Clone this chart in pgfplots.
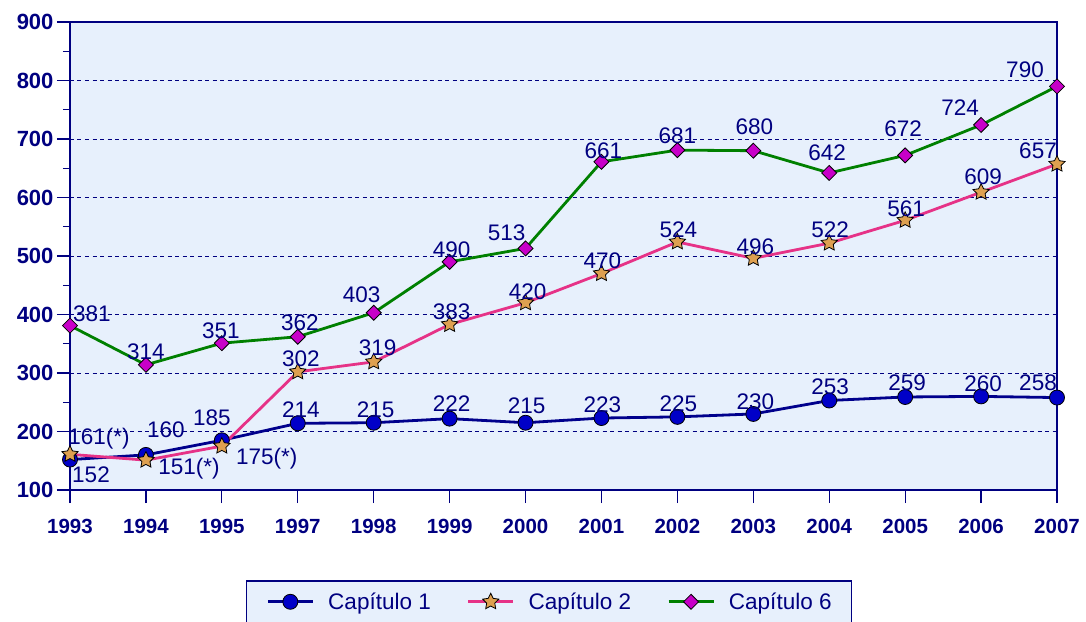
\documentclass[border=0pt]{standalone}
\usepackage{fontspec}
\setmainfont{Liberation Sans}
\usepackage{pgfplots}
\pgfplotsset{compat=1.18}
\usepackage{pgfplotstable}

\definecolor{navy}{RGB}{0,0,128}
\definecolor{bg}{RGB}{231,240,252}
\definecolor{c1line}{RGB}{0,0,140}
\definecolor{c1mark}{RGB}{0,0,200}
\definecolor{c2line}{RGB}{230,50,135}
\definecolor{c2mark}{RGB}{222,160,80}
\definecolor{c6line}{RGB}{0,128,0}
\definecolor{c6mark}{RGB}{200,0,200}

\pgfdeclareplotmark{fstar}{%
  \pgfpathmoveto{\pgfpointpolar{90}{\pgfplotmarksize}}%
  \pgfpathlineto{\pgfpointpolar{126}{0.5\pgfplotmarksize}}%
  \pgfpathlineto{\pgfpointpolar{162}{\pgfplotmarksize}}%
  \pgfpathlineto{\pgfpointpolar{198}{0.5\pgfplotmarksize}}%
  \pgfpathlineto{\pgfpointpolar{234}{\pgfplotmarksize}}%
  \pgfpathlineto{\pgfpointpolar{270}{0.5\pgfplotmarksize}}%
  \pgfpathlineto{\pgfpointpolar{306}{\pgfplotmarksize}}%
  \pgfpathlineto{\pgfpointpolar{342}{0.5\pgfplotmarksize}}%
  \pgfpathlineto{\pgfpointpolar{18}{\pgfplotmarksize}}%
  \pgfpathlineto{\pgfpointpolar{54}{0.5\pgfplotmarksize}}%
  \pgfpathclose
  \pgfusepathqfillstroke}
\pgfdeclareplotmark{fdia}{%
  \pgfpathmoveto{\pgfqpoint{0pt}{\pgfplotmarksize}}%
  \pgfpathlineto{\pgfqpoint{\pgfplotmarksize}{0pt}}%
  \pgfpathlineto{\pgfqpoint{0pt}{-\pgfplotmarksize}}%
  \pgfpathlineto{\pgfqpoint{-\pgfplotmarksize}{0pt}}%
  \pgfpathclose
  \pgfusepathqfillstroke}

\pgfplotstableread{
x y lab dx dy
0 152 152 21 -15
1 160 160 20 25
2 185 185 -10 23
3 214 214 3 14
4 215 215 2 13
5 222 222 2 15
6 215 215 1 17
7 223 223 1 13
8 225 225 1 13
9 230 230 2 12
10 253 253 1 14
11 259 259 2 14
12 260 260 2 13
13 258 258 -19 15
}\capone

\pgfplotstableread{
x y lab dx dy
0 161 161(*) 29 16
1 151 151(*) 43 -9
2 175 175(*) 45 -13
3 302 302 3 13
4 319 319 4 14
5 383 383 2 13
6 420 420 2 11
7 470 470 1 13
8 524 524 1 12
9 496 496 2 12
10 522 522 1 13
11 561 561 1 12
12 609 609 2 15
13 657 657 -19 13
}\captwo

\pgfplotstableread{
x y lab dx dy
0 381 381 22 12
1 314 314 0 13
2 351 351 -1 12
3 362 362 2 14
4 403 403 -12 18
5 490 490 2 12
6 513 513 -19 16
7 661 661 2 11
8 681 681 0 14
9 680 680 1 24
10 642 642 -2 20
11 672 672 -2 27
12 724 724 -21 17
13 790 790 -32 17
}\capsix

\pgfplotsset{
  lab/.style={
    nodes near coords,
    point meta=explicit symbolic,
    visualization depends on={\thisrow{dx}\as\dx},
    visualization depends on={\thisrow{dy}\as\dy},
    every node near coord/.append style={anchor=center, xshift=\dx pt, yshift=\dy pt,
      font=\fontsize{22.5}{22.5}\selectfont, text=navy, inner sep=0pt},
  }
}

\begin{document}
\begin{tikzpicture}
\useasboundingbox (0,0) rectangle (1086pt,621pt);
\begin{axis}[
  at={(70pt,131pt)}, anchor=south west,
  scale only axis, width=987pt, height=468pt,
  xmin=0, xmax=13, ymin=100, ymax=900,
  xtick={0,...,13},
  xticklabels={1993,1994,1995,1997,1998,1999,2000,2001,2002,2003,2004,2005,2006,2007},
  ytick={100,200,...,900}, minor ytick={150,250,...,850},
  /pgf/number format/assume math mode=true,
  tick align=outside, xtick pos=bottom, ytick pos=left,
  major tick length=13pt, minor tick length=7pt,
  every tick/.style={navy, line width=1.2pt},
  axis line style={navy, line width=1.5pt},
  ymajorgrids,
  grid style={navy, dash pattern=on 4pt off 3.5pt, line width=1pt},
  axis background/.style={fill=bg},
  xticklabel style={font=\fontsize{20.5}{20.5}\selectfont\bfseries, text=navy, yshift=-13pt},
  yticklabel style={font=\fontsize{22}{22}\selectfont\bfseries, text=navy},
  legend columns=3,
  legend image code/.code={\draw[mark repeat=2,mark phase=2,#1] plot coordinates {(0pt,0pt) (22.5pt,0pt) (45pt,0pt)};},
  legend style={at={(0.4853,-0.1923)}, anchor=north, draw=navy, line width=1.5pt, fill=bg,
    font=\fontsize{22.5}{22.5}\selectfont, text=navy, inner xsep=20pt, inner ysep=12pt,
    nodes={inner sep=0pt},
    /tikz/every odd column/.append style={column sep=14pt},
    /tikz/every even column/.append style={column sep=36pt}},
]
\addplot[c1line, line width=2.8pt, mark=*, mark size=7.5pt,
  mark options={fill=c1mark, draw=black, line width=0.8pt}, lab]
  table[x=x, y=y, meta=lab]{\capone};
\addlegendentry{Capítulo 1}
\addplot[c2line, line width=2.8pt, mark=fstar, mark size=8.5pt,
  mark options={fill=c2mark, draw=black, line width=0.8pt}, lab]
  table[x=x, y=y, meta=lab]{\captwo};
\addlegendentry{Capítulo 2}
\addplot[c6line, line width=2.8pt, mark=fdia, mark size=7.5pt,
  mark options={fill=c6mark, draw=black, line width=0.8pt}, lab]
  table[x=x, y=y, meta=lab]{\capsix};
\addlegendentry{Capítulo 6}
\end{axis}
\end{tikzpicture}
\end{document}
